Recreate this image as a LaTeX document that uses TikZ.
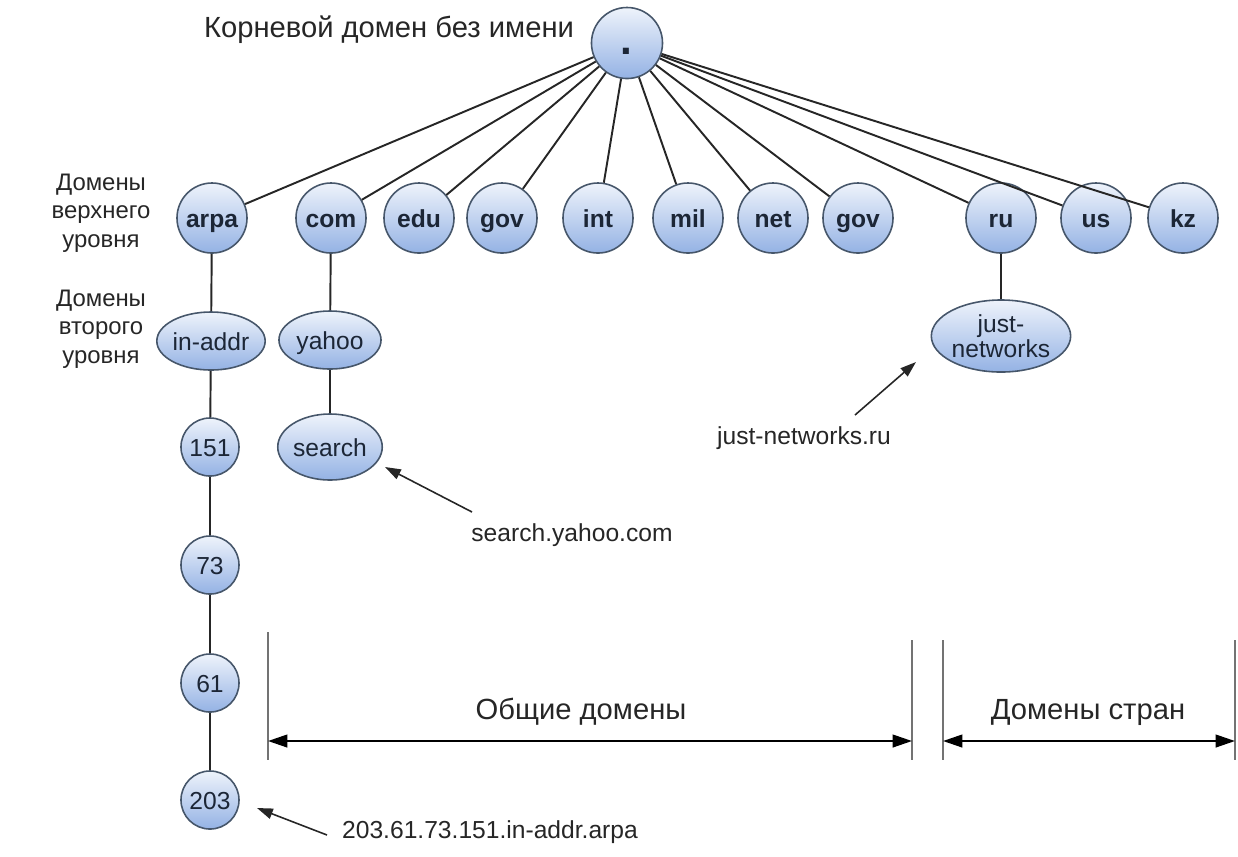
\documentclass[tikz,border=0pt]{standalone}
\usepackage{fontspec}
\setmainfont{Liberation Sans}
\usetikzlibrary{shapes.geometric,arrows.meta}
\definecolor{domtop}{HTML}{EEF3FB}
\definecolor{dombot}{HTML}{94B2E4}
\definecolor{domline}{HTML}{46566A}
\definecolor{domtext}{HTML}{1C2636}
\tikzset{
  dom/.style={circle, draw=domline, line width=0.45pt, top color=domtop, bottom color=dombot, inner sep=0pt, text=domtext, font=\fontsize{7}{7.2}\selectfont},
  samebase/.style={text height=0.72em, text depth=0.2em},
  tld/.style={dom, samebase, minimum size=0.70cm, font=\bfseries\fontsize{7}{7.2}\selectfont},
  lowdom/.style={dom, samebase, minimum size=0.58cm},
  oval/.style={dom, ellipse, align=center},
  link/.style={draw=black!85, line width=0.55pt},
  note/.style={font=\fontsize{7}{8}\selectfont, text=black!85, inner sep=0pt, align=center},
  bignote/.style={note, font=\fontsize{8.3}{9}\selectfont},
  sidenote/.style={note, font=\fontsize{6.8}{8.1}\selectfont},
  pointer/.style={draw=black!85, line width=0.45pt, -{Triangle[length=4.5pt,width=3pt]}},
  rangearrow/.style={draw=black, line width=0.6pt, {Triangle[length=5.5pt,width=3.6pt]}-{Triangle[length=5.5pt,width=3.6pt]}},
  rangeedge/.style={draw=black!55, line width=0.4pt},
}
\begin{document}
\begin{tikzpicture}[x=0.01cm, y=-0.01cm]
\useasboundingbox (0,0) rectangle (1238,856);
% root and top level
\node[dom, minimum size=0.71cm] (root) at (627,43) {};
\node[text=domtext, font=\bfseries\fontsize{12}{12}\selectfont, inner sep=0pt] (rootdot) at (626,51) {.};
\node[tld] (arpa) at (212,218) {arpa};
\node[tld] (com) at (331,218) {com};
\node[tld] (edu) at (419,218) {edu};
\node[tld] (gov) at (502,218) {gov};
\node[tld] (int) at (598,218) {int};
\node[tld] (mil) at (688,218) {mil};
\node[tld] (net) at (773,218) {net};
\node[tld] (govb) at (858,218) {gov};
\node[tld] (ru) at (1001,218) {ru};
\node[tld] (us) at (1096,218) {us};
\node[tld] (kz) at (1183,218) {kz};
% lower levels
\node[oval, samebase, minimum width=0.98cm, minimum height=0.58cm] (inaddr) at (211,341) {in-addr};
\node[lowdom] (n151) at (210,447) {151};
\node[lowdom] (n73) at (210,565) {73};
\node[lowdom] (n61) at (210,683) {61};
\node[lowdom] (n203) at (210,800) {203};
\node[oval, samebase, minimum width=1.02cm, minimum height=0.58cm] (yahoo) at (330,340) {yahoo};
\node[oval, samebase, minimum width=1.00cm, minimum height=0.66cm] (search) at (330,447) {search};
\node[oval, minimum width=1.22cm, minimum height=0.72cm] (justnet) at (1001,336) {just-\\networks};
% links
\draw[link] (root) -- (arpa);
\draw[link] (root) -- (com);
\draw[link] (root) -- (edu);
\draw[link] (root) -- (gov);
\draw[link] (root) -- (int);
\draw[link] (root) -- (mil);
\draw[link] (root) -- (net);
\draw[link] (root) -- (govb);
\draw[link] (root) -- (ru);
\draw[link] (root) -- (us);
\draw[link] (root) -- (kz);
\draw[link] (arpa) -- (inaddr);
\draw[link] (inaddr) -- (n151);
\draw[link] (n151) -- (n73);
\draw[link] (n73) -- (n61);
\draw[link] (n61) -- (n203);
\draw[link] (com) -- (yahoo);
\draw[link] (yahoo) -- (search);
\draw[link] (ru) -- (justnet);
% labels
\node[bignote] (roottxt) at (389,30) {Корневой домен без имени};
\node[sidenote] (toptxt) at (101,213) {Домены\\верхнего\\уровня};
\node[sidenote] (sectxt) at (101,329) {Домены\\второго\\уровня};
\node[note] (sytxt) at (572,535) {search.yahoo.com};
\node[note] (jntxt) at (804,438) {just-networks.ru};
\node[note] (arpatxt) at (490,832) {203.61.73.151.in-addr.arpa};
\node[bignote] (gentxt) at (581,712) {Общие домены};
\node[bignote] (cctxt) at (1088,712) {Домены стран};
% pointers
\coordinate (sytail) at (472,512);
\coordinate (sytip) at (385,467);
\coordinate (jntail) at (855,415);
\coordinate (jntip) at (916,362);
\coordinate (arpatail) at (327,835);
\coordinate (arpatip) at (257,808);
\draw[pointer] (sytail) -- (sytip);
\draw[pointer] (jntail) -- (jntip);
\draw[pointer] (arpatail) -- (arpatip);
% ranges
\coordinate (genl) at (268,741);
\coordinate (genr) at (912,741);
\coordinate (ccl) at (943,741);
\coordinate (ccr) at (1235,741);
\draw[rangeedge] (268,632) -- (268,760);
\draw[rangeedge] (912,640) -- (912,760);
\draw[rangeedge] (943,640) -- (943,760);
\draw[rangeedge] (1235,640) -- (1235,760);
\draw[rangearrow] (genl) -- (genr);
\draw[rangearrow] (ccl) -- (ccr);
\end{tikzpicture}
\end{document}
